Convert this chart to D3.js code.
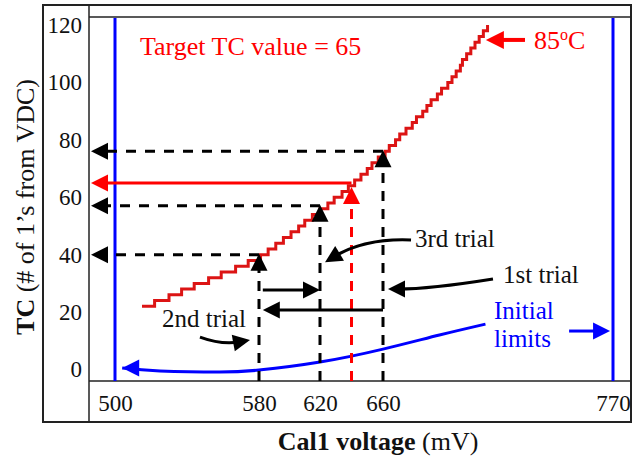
<!DOCTYPE html>
<html>
<head>
<meta charset="utf-8">
<script src="https://cdn.jsdelivr.net/npm/d3@7"></script>
<style>
	body { margin: 0; background: #fff; }
	text { font-family: "Liberation Serif", "Times New Roman", serif; }
</style>
</head>
<body>
<script>
var SIZE = { width: 637, height: 460 };
var FRAME = { left: 43, inner: 89, right: 631, top: 5, innerTop: 17, axis: 381, bottom: 422 };
var SERIF = '"Liberation Serif", "Times New Roman", serif';

// axis ticks
var xTicks = [500, 580, 620, 660, 770];
var yTicks = [0, 20, 40, 60, 80, 100, 120];

// measured transfer curve (stepped): Cal1 voltage (mV) vs TC
var calVoltage = [515, 522, 530, 537, 544, 552, 559, 567, 574, 581, 586, 591, 596, 601, 606, 610, 615, 620, 625, 629,
	634, 638, 642, 646, 650, 653, 657, 661, 663, 666, 668, 671, 674, 676, 679, 681, 683, 686, 688, 691, 693, 695, 697,
	698, 700, 702, 704, 706, 708, 710];
var tcCode = [22, 24, 26, 28, 30, 32, 34, 36, 38, 40, 42, 44, 46, 48, 50, 52, 54, 56, 58, 60,
	62, 64, 66, 68, 70, 72, 74, 76, 78, 80, 82, 84, 86, 88, 90, 92, 94, 96, 98, 100, 102, 104, 106,
	108, 110, 112, 114, 116, 118, 120];

// initial limits sweep (blue)
var limitVoltage = [504, 525, 558, 580, 620, 660, 687, 709];
var limitTc = [0.5, -0.5, -0.9, -0.2, 2.6, 7.1, 12.0, 15.8];
var limitBounds = [500, 770];

// binary search trials
var trialVoltage = [660, 580, 620];
var trialTc = [76, 40, 57];
var targetVoltage = 640;
var targetTc = 65;

var x = d3.scaleLinear().domain(xTicks).range([115, 259, 320, 383, 613]);
var y = d3.scaleLinear().domain([0, 120]).range([369.5, 25]);

var svg = d3.select('body').append('svg')
	.attr('width', SIZE.width)
	.attr('height', SIZE.height)
	.attr('font-family', SERIF);

svg.append('rect').attr('width', SIZE.width).attr('height', SIZE.height).attr('fill', '#fff');

function arrowHead(g, tip, angle, color, len, wid) {
	len = len || 17;
	wid = wid || 17;
	g.append('path')
		.attr('d', 'M0,0L' + (-len) + ',' + (-wid / 2) + 'L' + (-len) + ',' + (wid / 2) + 'Z')
		.attr('transform', 'translate(' + tip[0] + ',' + tip[1] + ') rotate(' + angle + ')')
		.attr('fill', color);
}

function line(g, x1, y1, x2, y2, color, dash, w) {
	return g.append('line')
		.attr('x1', x1).attr('y1', y1).attr('x2', x2).attr('y2', y2)
		.attr('stroke', color)
		.attr('stroke-width', w || 3)
		.attr('stroke-dasharray', dash || null);
}

// curved arrow: quadratic from s over c to tip
function curvedArrow(g, s, c, tip, color) {
	var ang = Math.atan2(tip[1] - c[1], tip[0] - c[0]);
	var end = [tip[0] - 10 * Math.cos(ang), tip[1] - 10 * Math.sin(ang)];
	g.append('path')
		.attr('d', 'M' + s + 'Q' + c + ' ' + end)
		.attr('fill', 'none')
		.attr('stroke', color)
		.attr('stroke-width', 3);
	arrowHead(g, tip, ang * 180 / Math.PI, color);
}

function pt(v, t) { return [x(v), y(t)]; }

// frame
var frame = svg.append('g').attr('stroke', '#222').attr('fill', 'none');
frame.append('rect')
	.attr('x', FRAME.left).attr('y', FRAME.top)
	.attr('width', FRAME.right - FRAME.left).attr('height', FRAME.bottom - FRAME.top)
	.attr('stroke-width', 2);
line(frame, FRAME.inner, FRAME.top, FRAME.inner, FRAME.bottom, '#222', null, 1.5);
line(frame, FRAME.inner, FRAME.innerTop, FRAME.right, FRAME.innerTop, '#222', null, 1.5);
line(frame, FRAME.inner, FRAME.axis, FRAME.right, FRAME.axis, '#222', null, 1.5);

// axes
var yAxis = svg.append('g')
	.attr('transform', 'translate(' + FRAME.inner + ',0)')
	.call(d3.axisLeft(y).tickValues(yTicks).tickSize(0).tickPadding(7));
var xAxis = svg.append('g')
	.attr('transform', 'translate(0,' + FRAME.axis + ')')
	.call(d3.axisBottom(x).tickValues(xTicks).tickSize(0).tickPadding(14));
[xAxis, yAxis].forEach(function (a) {
	a.attr('font-family', SERIF).attr('font-size', 23);
	a.select('.domain').remove();
	a.selectAll('text')
		.attr('fill', '#111')
		.style('font-family', SERIF)
		.style('font-size', '23px');
});

// axis titles
var yTitle = svg.append('text')
	.attr('transform', 'translate(34,' + 207 + ') rotate(-90)')
	.attr('text-anchor', 'middle')
	.attr('fill', '#111')
	.style('font-size', '26px');
yTitle.append('tspan').attr('font-weight', 'bold').text('TC');
yTitle.append('tspan').text(' (# of 1\u2019s from VDC)');

var xTitle = svg.append('text')
	.attr('x', 378).attr('y', 450)
	.attr('text-anchor', 'middle')
	.attr('fill', '#111')
	.style('font-size', '26px');
xTitle.append('tspan').attr('font-weight', 'bold').text('Cal1 voltage');
xTitle.append('tspan').text(' (mV)');

var plot = svg.append('g');

// initial limits
limitBounds.forEach(function (v) {
	line(plot, x(v), FRAME.innerTop + 1, x(v), FRAME.axis, '#0000ff', null, 3);
});
plot.append('path')
	.datum(d3.zip(limitVoltage, limitTc))
	.attr('d', d3.line().x(function (d) { return x(d[0]); }).y(function (d) { return y(d[1]); }).curve(d3.curveNatural))
	.attr('fill', 'none')
	.attr('stroke', '#0000ff')
	.attr('stroke-width', 3);
arrowHead(plot, pt(limitVoltage[0], limitTc[0]), 180, '#0000ff');

// measured curve
plot.append('path')
	.datum(d3.zip(calVoltage, tcCode))
	.attr('d', d3.line().x(function (d) { return x(d[0]); }).y(function (d) { return y(d[1]); }).curve(d3.curveStepAfter))
	.attr('fill', 'none')
	.attr('stroke', '#dc1414')
	.attr('stroke-width', 3);

// trial arrows
trialVoltage.forEach(function (v, i) {
	var t = trialTc[i];
	line(plot, x(v), FRAME.axis, x(v), y(t) + 10, '#000', '10,8', 3);
	arrowHead(plot, [x(v), y(t) - 1], -90, '#000');
	line(plot, x(v), y(t), FRAME.inner + 10, y(t), '#000', '10,9', 3);
	arrowHead(plot, [FRAME.inner + 2, y(t)], 180, '#000');
});

// target
line(plot, x(targetVoltage), FRAME.axis, x(targetVoltage), y(targetTc) + 14, '#ff0000', '10,8', 3);
arrowHead(plot, [x(targetVoltage), y(targetTc) + 4], -90, '#ff0000');
line(plot, x(targetVoltage), y(targetTc), FRAME.inner + 10, y(targetTc), '#ff0000', null, 3);
arrowHead(plot, [FRAME.inner + 2, y(targetTc)], 180, '#ff0000');

// range arrows between trials
line(plot, x(582.5), y(27.7), x(620) - 10, y(27.7), '#000', null, 3);
arrowHead(plot, pt(620, 27.7), 0, '#000');
line(plot, x(660), y(20.7), x(582.5) + 10, y(20.7), '#000', null, 3);
arrowHead(plot, pt(582.5, 20.7), 180, '#000');

// annotations
function label(txt, v, t, color, size) {
	return plot.append('text')
		.attr('x', x(v)).attr('y', y(t))
		.attr('fill', color)
		.style('font-size', (size || 25) + 'px')
		.text(txt);
}

label('Target TC value = 65', 513.9, 109.5, '#ff0000', 26);
var hot = label('85', 732.2, 111.6, '#ff0000', 26);
hot.append('tspan').attr('dy', -9).style('font-size', '16px').text('o');
hot.append('tspan').attr('dy', 9).text('C');
line(plot, x(727.9), y(114.8), x(709.2) + 10, y(114.8), '#ff0000', null, 4);
arrowHead(plot, pt(709.2, 114.8), 180, '#ff0000', 18, 18);

label('3rd trial', 675.3, 42.7, '#111');
curvedArrow(plot, pt(673.4, 45.1), pt(648.6, 45.8), pt(623.2, 37.4), '#000');

label('1st trial', 717.4, 30.1, '#111');
curvedArrow(plot, pt(712.6, 31.5), pt(682.5, 28.0), pt(662.4, 28.0), '#000');

label('2nd trial', 526.1, 14.8, '#111');
curvedArrow(plot, pt(547.2, 11.3), pt(559.4, 8.5), pt(575, 10.3), '#000');

label('Initial', 713.1, 17.6, '#0000ff');
label('limits', 713.1, 7.8, '#0000ff');
line(plot, x(749), y(13.4), x(768.6) - 10, y(13.4), '#0000ff', null, 3);
arrowHead(plot, pt(768.6, 13.4), 0, '#0000ff');
</script>
</body>
</html>
